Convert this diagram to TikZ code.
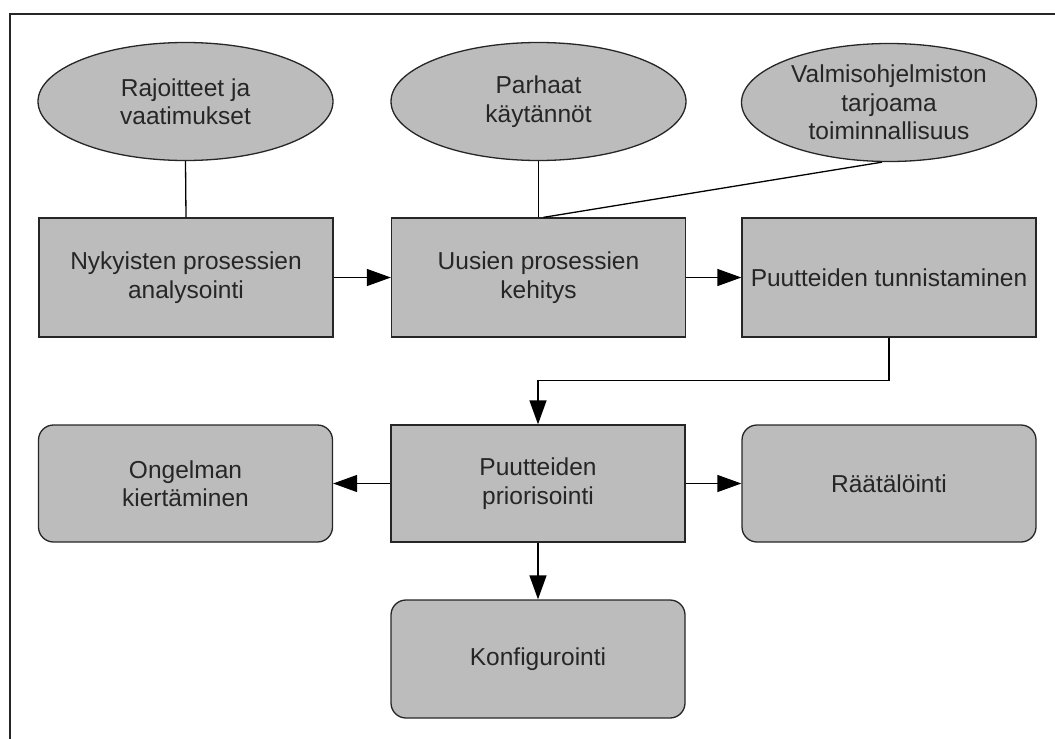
\documentclass[tikz,border=0pt]{standalone}
\usepackage{fontspec}
\setmainfont{Liberation Sans}
\usetikzlibrary{shapes.geometric,arrows.meta}
\begin{document}
\begin{tikzpicture}[x=1pt,y=-1pt,
  every node/.style={font=\fontsize{24.5}{28.5}\selectfont, align=center, text=black!85},
  stepbox/.style={draw=black!85, line width=1.3pt, fill=gray!50!lightgray, fill=lightgray!95!gray,
    minimum width=294pt, minimum height=119pt, inner sep=2pt},
  outcome/.style={stepbox, rounded corners=15pt, minimum height=117pt},
  source/.style={ellipse, draw=black!85, line width=1.3pt, fill=lightgray!95!gray,
    minimum width=295pt, minimum height=118pt, inner sep=0pt},
  link/.style={draw=black, line width=1.3pt},
  flow/.style={link, -{Triangle[length=24pt,width=17pt]}}
]
\useasboundingbox (0,0) rectangle (1055,739);
% page frame
\draw[line width=2pt, black!85] (9.5,739) -- (9.5,13.5) -- (1055,13.5);

% inputs
\node[source] (e1) at (185.5,101.5) {Rajoitteet ja\\vaatimukset};
\node[source] (e2) at (538.5,101.5) {Parhaat\\käytännöt};
\node[source] (e3) at (889,102.5) {Valmisohjelmiston\\tarjoama\\toiminnallisuus};

% process chain
\node[stepbox] (b1) at (186,277.5) {Nykyisten prosessien\\analysointi};
\node[stepbox] (b2) at (538.5,277.5) {Uusien prosessien\\kehitys};
\node[stepbox] (b3) at (889,277.5) {Puutteiden tunnistaminen};
\node[stepbox, minimum height=117pt] (b4) at (538,483.5) {Puutteiden\\priorisointi};

% outcomes
\node[outcome] (o1) at (185.5,483.5) {Ongelman\\kiertäminen};
\node[outcome] (o2) at (889,483.5) {Räätälöinti};
\node[outcome, minimum height=118pt] (o3) at (538,659) {Konfigurointi};

% connectors
\draw[link] (e1.south) -- (b1.north);
\draw[link] (e2.south) -- (b2.north);
\draw[link] ([xshift=-7pt]e3.south) -- ([xshift=5pt]b2.north);
\draw[flow] (b1.east) -- (b2.west);
\draw[flow] (b2.east) -- (b3.west);
\draw[flow] (b3.south) -- ++(0,43) -| (b4.north);
\draw[flow] (b4.west) -- (o1.east);
\draw[flow] (b4.east) -- (o2.west);
\draw[flow] (b4.south) -- (o3.north);
\end{tikzpicture}
\end{document}
